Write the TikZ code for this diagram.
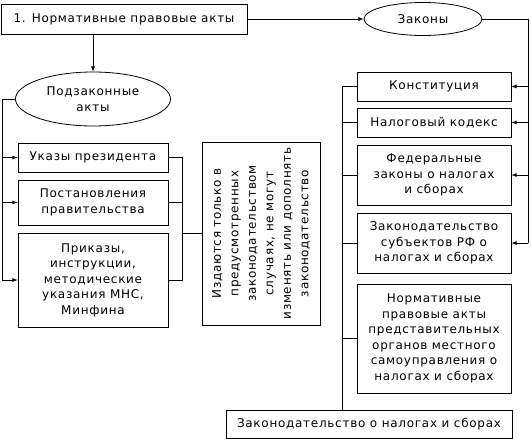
\documentclass[tikz,border=0pt]{standalone}
\usepackage{fontspec}
\setmainfont{DejaVu Sans}
\newfontfamily\boxfont{DejaVu Sans}[LetterSpace=6]
\usetikzlibrary{shapes.geometric}

\begin{document}
\begin{tikzpicture}[x=1pt,y=-1pt,>=latex,line width=0.8pt,
	box/.style={draw,rectangle,inner sep=0pt,align=center,font=\boxfont\fontsize{12}{15.5}\selectfont},
	oval/.style={draw,ellipse,inner sep=0pt,align=center,font=\boxfont\fontsize{12}{15.5}\selectfont}]
			\useasboundingbox (0,0) rectangle (531,439);
			
			\node[box,minimum width=246,minimum height=30] (top) at (124,19) {1. Нормативные правовые акты};
			\node[oval,minimum width=118,minimum height=33] (zakony) at (423,19) {Законы};
			\node[oval,minimum width=155,minimum height=54] (podzak) at (93,99) {Подзаконные\\акты};
			
			\node[box,minimum width=150,minimum height=29] (ukazy) at (93,157.5) {Указы президента};
			\node[box,minimum width=150,minimum height=45] (postan) at (93,202.5) {Постановления\\правительства};
			\node[box,minimum width=150,minimum height=94] (prikazy) at (93,280) {Приказы,\\инструкции,\\методические\\указания МНС,\\Минфина};
			\node[box,rotate=90,minimum width=183,minimum height=118,font=\boxfont\fontsize{12}{17.5}\selectfont] (izd) at (261,233.5) {Издаются только в\\предусмотренных\\законодательством\\случаях, не могут\\изменять или дополнять\\законодательство};
			
			\node[box,minimum width=154,minimum height=29] (konst) at (434,86.5) {Конституция};
			\node[box,minimum width=154,minimum height=29] (nalog) at (434,122.5) {Налоговый кодекс};
			\node[box,minimum width=154,minimum height=60] (feder) at (434,175) {Федеральные\\законы о налогах\\и сборах};
			\node[box,minimum width=154,minimum height=60] (subj) at (434,243) {Законодательство\\субъектов РФ о\\налогах и сборах};
			\node[box,minimum width=154,minimum height=109] (mestn) at (434,338.5) {Нормативные\\правовые акты\\представительных\\органов местного\\самоуправления о\\налогах и сборах};
			\node[box,minimum width=286,minimum height=28] (zakonod) at (369,424) {Законодательство о налогах и сборах};
			
			\coordinate (lb) at (2,0);
			\coordinate (mb) at (182,0);
			\coordinate (cb) at (342,0);
			\coordinate (rb) at (528,0);
			
			\draw[->] (top) -- (zakony);
			\draw[->] (top.south -| podzak.north) -- (podzak.north);
			
			\draw[->] (podzak.west) -| (lb |- prikazy) -- (prikazy.west);
			\draw[->] (lb |- ukazy) -- (ukazy.west);
			\draw[->] (lb |- postan) -- (postan.west);
			
			\draw (ukazy.east) -| (mb |- prikazy) -- (prikazy.east);
			\draw (postan.east) -- (postan.east -| mb);
			\draw (mb |- izd.north) -- (izd.north);
			
			\draw (zakony.east) -| (rb |- subj);
			\foreach \b in {konst,nalog,feder,subj}
				\draw[->] (rb |- \b) -- (\b.east);
			
			\draw (konst.west) -| (cb |- zakonod.north);
			\foreach \b in {nalog,feder,subj,mestn}
				\draw (\b.west) -- (\b.west -| cb);
		\end{tikzpicture}
\end{document}
